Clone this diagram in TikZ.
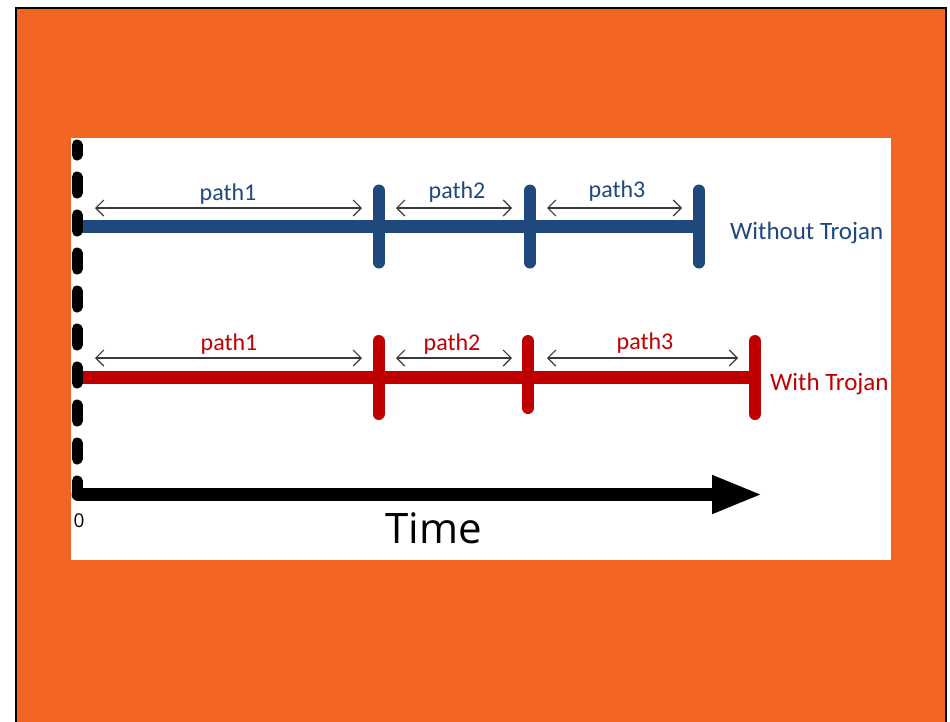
\documentclass[tikz,border=0pt]{standalone}
\usepackage{fontspec}
\setmainfont{Carlito}
\newfontfamily\uifont{Open Sans}
\usetikzlibrary{arrows.meta}
\definecolor{frameorange}{HTML}{F26522}
\definecolor{trojanblue}{HTML}{1F497D}
\definecolor{trojanred}{HTML}{C00000}
\definecolor{spangray}{HTML}{3A3A3A}

\begin{document}
\begin{tikzpicture}[x=1pt,y=-1pt,
  rail/.style={line width=13pt},
  tickmark/.style={line width=12pt, line cap=round},
  span/.style={spangray, line width=1.2pt,
    {Straight Barb[length=8pt,width=16pt]}-{Straight Barb[length=8pt,width=16pt]}},
  pathlabel/.style={anchor=base, inner sep=0pt, font=\fontsize{24}{28}\selectfont},
  rowlabel/.style={anchor=base west, inner sep=0pt, font=\fontsize{25}{29}\selectfont},
]
\useasboundingbox (0,0) rectangle (950,721);
\fill[white] (0,0) rectangle (950,721);
\begin{scope}
\clip (0,0) rectangle (950,721);
% orange slide with its dark frame
\filldraw[fill=frameorange, draw=black, line width=2pt] (16,8) rectangle (946,740);
% white diagram panel
\fill[white] (71,138) rectangle (891,560);

% ---- row without Trojan ----
\coordinate (b0) at (77,226.5);
\coordinate (b1) at (379,226.5);
\coordinate (b2) at (530,226.5);
\coordinate (b3) at (699,226.5);
\draw[trojanblue, rail] (b0) -- (b3);
\foreach \t in {b1,b2,b3}
  \draw[trojanblue, tickmark] ([yshift=-36pt]\t) -- ([yshift=36pt]\t);

\coordinate (ba1) at (95,208);  \coordinate (bz1) at (362,208);
\coordinate (ba2) at (396,208); \coordinate (bz2) at (512,208);
\coordinate (ba3) at (547,208); \coordinate (bz3) at (682,208);
\draw[span] (ba1) -- (bz1);
\draw[span] (ba2) -- (bz2);
\draw[span] (ba3) -- (bz3);
\node[pathlabel, text=trojanblue] (bl1) at (228,200) {path1};
\node[pathlabel, text=trojanblue] (bl2) at (457,198) {path2};
\node[pathlabel, text=trojanblue] (bl3) at (617,197) {path3};
\node[rowlabel, text=trojanblue] (blabel) at (730,239) {Without Trojan};

% ---- row with Trojan ----
\coordinate (r0) at (77,377.5);
\coordinate (r1) at (378.5,377.5);
\coordinate (r2) at (528,377.5);
\coordinate (r3) at (755,377.5);
\draw[trojanred, rail] (r0) -- (r3);
\draw[trojanred, tickmark] ([yshift=-36.5pt]r1) -- ([yshift=36.5pt]r1);
\draw[trojanred, tickmark] ([yshift=-30.5pt]r2) -- ([yshift=36.5pt]r2);
\draw[trojanred, tickmark] ([yshift=-36.5pt]r3) -- ([yshift=36.5pt]r3);

\coordinate (ra1) at (95,358);  \coordinate (rz1) at (362,358);
\coordinate (ra2) at (396,358); \coordinate (rz2) at (512,358);
\coordinate (ra3) at (547,358); \coordinate (rz3) at (738,358);
\draw[span] (ra1) -- (rz1);
\draw[span] (ra2) -- (rz2);
\draw[span] (ra3) -- (rz3);
\node[pathlabel, text=trojanred] (rl1) at (229,350) {path1};
\node[pathlabel, text=trojanred] (rl2) at (452,350) {path2};
\node[pathlabel, text=trojanred] (rl3) at (645,349) {path3};
\node[rowlabel, text=trojanred] (rlabel) at (770,390) {With Trojan};

% dashed start line at time 0, on top of both rows
\draw[black, line width=11pt, line cap=round, dash pattern=on 16pt off 22pt, dash phase=6pt]
  (77,145) -- (77,493);

% ---- time axis ----
\coordinate (origin) at (78,494.5);
\coordinate (tend) at (763,494.5);
\draw[black, line width=13pt, line cap=round, -{Triangle[length=51pt,width=35pt]}]
  (origin) -- (tend);
\node[anchor=base, inner sep=0pt, font=\uifont\fontsize{19}{22}\selectfont] (zero) at (79,527) {0};
\node[anchor=base, inner sep=0pt, font=\uifont\fontsize{42}{48}\selectfont] (time) at (434,543) {Time};
\end{scope}
\end{tikzpicture}
\end{document}
